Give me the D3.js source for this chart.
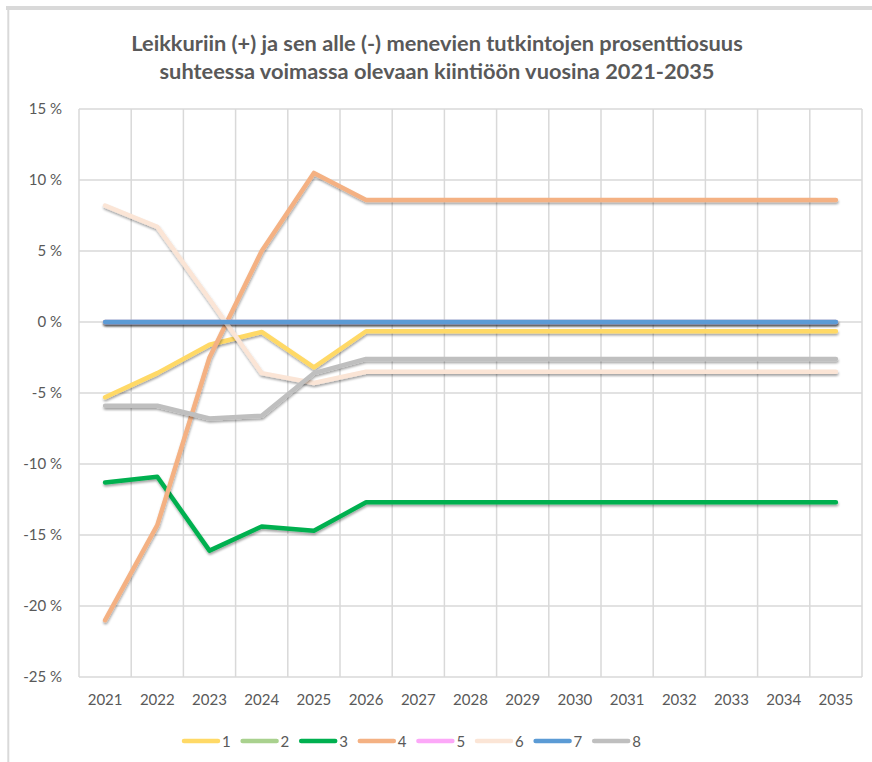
<!DOCTYPE html>
<html>
<head>
<meta charset="utf-8">
<script src="https://cdn.jsdelivr.net/npm/d3@7"></script>
<style>
  html, body { margin: 0; padding: 0; background: #fff; }
  svg { display: block; }
  text { font-family: Lato, "Open Sans", sans-serif; fill: #595959; }
</style>
</head>
<body>
<svg id="chart" width="872" height="762"></svg>
<script>
const years = ["2021","2022","2023","2024","2025","2026","2027","2028","2029","2030","2031","2032","2033","2034","2035"];
const seriesNames = ["1","2","3","4","5","6","7","8"];
const seriesColors = ["#FFD966","#A9D18E","#00B050","#F4B183","#FCA8F8","#FBE5D6","#5B9BD5","#BFBFBF"];
const s1 = [-5.3, -3.6, -1.6, -0.7, -3.2, -0.65, -0.65, -0.65, -0.65, -0.65, -0.65, -0.65, -0.65, -0.65, -0.65];
const s2 = [0, 0, 0, 0, 0, 0, 0, 0, 0, 0, 0, 0, 0, 0, 0];
const s3 = [-11.3, -10.9, -16.1, -14.4, -14.7, -12.7, -12.7, -12.7, -12.7, -12.7, -12.7, -12.7, -12.7, -12.7, -12.7];
const s4 = [-21.0, -14.3, -2.5, 5.0, 10.5, 8.6, 8.6, 8.6, 8.6, 8.6, 8.6, 8.6, 8.6, 8.6, 8.6];
const s5 = [0, 0, 0, 0, 0, 0, 0, 0, 0, 0, 0, 0, 0, 0, 0];
const s6 = [8.2, 6.7, 1.6, -3.6, -4.3, -3.5, -3.5, -3.5, -3.5, -3.5, -3.5, -3.5, -3.5, -3.5, -3.5];
const s7 = [0, 0, 0, 0, 0, 0, 0, 0, 0, 0, 0, 0, 0, 0, 0];
const s8 = [-5.9, -5.9, -6.8, -6.6, -3.6, -2.6, -2.6, -2.6, -2.6, -2.6, -2.6, -2.6, -2.6, -2.6, -2.6];
const yTicks = [15, 10, 5, 0, -5, -10, -15, -20, -25];
const titleLines = ["Leikkuriin (+) ja sen alle (-) menevien tutkintojen prosenttiosuus",
                    "suhteessa voimassa olevaan kiintiöön vuosina 2021-2035"];

const allSeries = [s1, s2, s3, s4, s5, s6, s7, s8];

const svg = d3.select("#chart");

// Frame
svg.append("rect").attr("x", 0).attr("y", 0).attr("width", 872).attr("height", 762).attr("fill", "#fff");
svg.append("line").attr("x1", 6).attr("x2", 872).attr("y1", 8).attr("y2", 8)
  .attr("stroke", "#d9d9d9").attr("stroke-width", 4);
svg.append("line").attr("x1", 8.3).attr("x2", 8.3).attr("y1", 6).attr("y2", 762)
  .attr("stroke", "#d9d9d9").attr("stroke-width", 2);

// Shadow filter (user space so flat lines are not clipped)
const defs = svg.append("defs");
const f = defs.append("filter").attr("id", "shadow")
  .attr("filterUnits", "userSpaceOnUse")
  .attr("x", 0).attr("y", 0).attr("width", 872).attr("height", 762);
f.append("feDropShadow").attr("dx", 0.5).attr("dy", 2).attr("stdDeviation", 1.3)
  .attr("flood-color", "#000").attr("flood-opacity", 0.35);

// Scales
const plotL = 79, plotR = 862, plotT = 109, plotB = 677;
const x = d3.scaleBand().domain(years).range([plotL, plotR]).paddingInner(0).paddingOuter(0);
const y = d3.scaleLinear().domain([-25, 15]).range([plotB, plotT]);

// Gridlines
const grid = svg.append("g");
grid.selectAll("line.h").data(yTicks).join("line")
  .attr("x1", plotL).attr("x2", plotR)
  .attr("y1", d => y(d)).attr("y2", d => y(d))
  .attr("stroke", "#d9d9d9").attr("stroke-width", 1.5);
const bounds = years.map(d => x(d)).concat([x(years[years.length - 1]) + x.bandwidth()]);
grid.selectAll("line.v").data(bounds).join("line")
  .attr("x1", d => d).attr("x2", d => d)
  .attr("y1", plotT).attr("y2", plotB)
  .attr("stroke", "#d9d9d9").attr("stroke-width", 1.5);

// Y axis labels
const yAxis = d3.axisLeft(y).tickValues(yTicks).tickFormat(d => d + " %").tickSize(0).tickPadding(0);
const yg = svg.append("g").attr("transform", `translate(62,0)`).call(yAxis);
yg.select(".domain").remove();
yg.selectAll("text").attr("font-size", 15).attr("fill", "#595959")
  .style("font-family", "Lato, 'Open Sans', sans-serif");

// X axis labels
const xAxis = d3.axisBottom(x).tickSize(0).tickPadding(0);
const xg = svg.append("g").attr("transform", `translate(0,${plotB + 17})`).call(xAxis);
xg.select(".domain").remove();
xg.selectAll("text").attr("font-size", 15).attr("fill", "#595959")
  .style("font-family", "Lato, 'Open Sans', sans-serif");

// Lines
const line = d3.line().x((d, i) => x(years[i]) + x.bandwidth() / 2).y(d => y(d));
const lines = svg.append("g");
allSeries.forEach((s, i) => {
  lines.append("path").datum(s)
    .attr("d", line)
    .attr("fill", "none")
    .attr("stroke", seriesColors[i])
    .attr("stroke-width", 4.5)
    .attr("stroke-linecap", "round")
    .attr("stroke-linejoin", "round")
    .attr("filter", "url(#shadow)");
});

// Title
const title = svg.append("g");
titleLines.forEach((t, i) => {
  title.append("text")
    .attr("x", 437).attr("y", 51 + i * 28)
    .attr("text-anchor", "middle")
    .attr("font-size", 19)
    .attr("font-weight", "bold")
    .attr("fill", "#595959")
    .text(t);
});
const t0 = title.select("text").node();
const w0 = t0.getComputedTextLength();
const fs = 19 * 612 / w0;
title.selectAll("text").attr("font-size", fs);

// Legend
const legend = svg.append("g");
const legStep = 58.6, legX0 = 184, legY = 741;
seriesNames.forEach((n, i) => {
  const gx = legX0 + i * legStep;
  legend.append("line")
    .attr("x1", gx).attr("x2", gx + 34)
    .attr("y1", legY).attr("y2", legY)
    .attr("stroke", seriesColors[i]).attr("stroke-width", 4.5)
    .attr("stroke-linecap", "round");
  legend.append("text")
    .attr("x", gx + 38).attr("y", legY + 5.5)
    .attr("font-size", 15).attr("fill", "#595959")
    .text(n);
});
</script>
</body>
</html>
